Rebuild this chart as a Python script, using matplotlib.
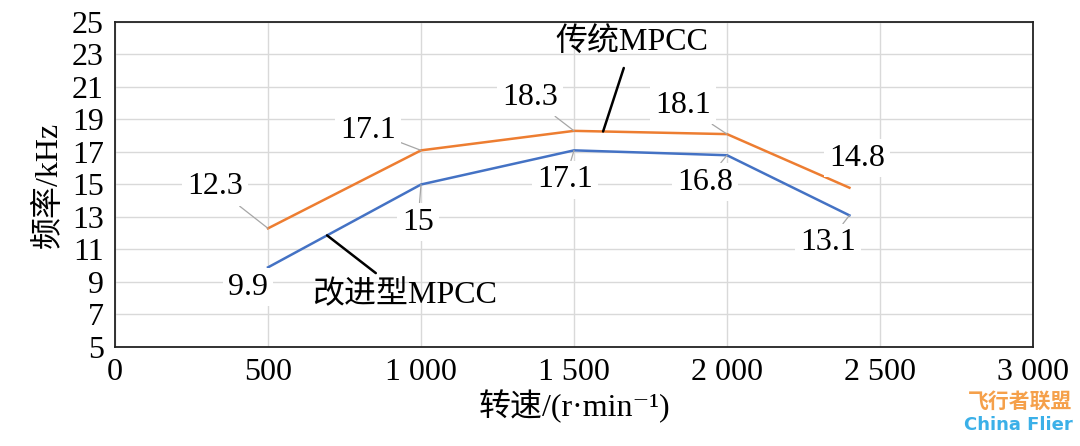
import numpy as np
import matplotlib
matplotlib.use("Agg")
import matplotlib.pyplot as plt

plt.rcParams['font.family'] = ['Liberation Serif', 'Noto Sans CJK SC', 'DejaVu Serif']

# data
speed = [500, 1000, 1500, 2000, 2400]
freq_trad = [12.3, 17.1, 18.3, 18.1, 14.8]
freq_impr = [9.9, 15, 17.1, 16.8, 13.1]
xtick_vals = [0, 500, 1000, 1500, 2000, 2500, 3000]
xtick_labels = ['0', '500', '1 000', '1 500', '2 000', '2 500', '3 000']
ytick_vals = list(range(5, 26, 2))

# label text positions (data coords)
trad_label_pos = [(327, 14.85), (827, 18.35), (1356, 20.38), (1856, 19.89), (2425, 16.63)]
impr_label_pos = [(435, 8.69), (990, 12.69), (1471, 15.28), (1928, 15.15), (2330, 11.4)]
trad_leader = [True, True, True, True, False]
impr_leader = [False, True, True, True, True]

c_orange = '#ED7D31'
c_blue = '#4472C4'
fs = 23

fig = plt.figure(figsize=(10.8, 4.46), dpi=100)
ax = fig.add_axes([0.1065, 0.222, 0.85, 0.7287])

ax.plot(speed, freq_trad, color=c_orange, lw=1.8, zorder=3)
ax.plot(speed, freq_impr, color=c_blue, lw=1.8, zorder=3)

ax.set_xlim(0, 3000)
ax.set_ylim(5, 25)
ax.set_xticks(xtick_vals)
ax.set_xticklabels(xtick_labels)
ax.set_yticks(ytick_vals)
ax.tick_params(length=0, labelsize=fs, pad=8)
ax.grid(True, color='#D9D9D9', lw=1)
ax.set_axisbelow(True)
for s in ax.spines.values():
    s.set_color('#222222')
    s.set_linewidth(1.3)

ax.set_xlabel('转速/(r·min⁻¹)', fontsize=fs, labelpad=2)
ax.set_ylabel('频率/kHz', fontsize=fs, labelpad=6)

def put_labels(xs, ys, pos, leader):
    for x, y, p, ld in zip(xs, ys, pos, leader):
        txt = f'{y:g}'
        ap = dict(arrowstyle='-', color='#A6A6A6', lw=0.9, shrinkA=0, shrinkB=0) if ld else None
        ax.annotate(txt, xy=(x, y), xytext=p, ha='center', va='center', fontsize=fs,
                    bbox=dict(boxstyle='square,pad=0.15', fc='white', ec='none'),
                    arrowprops=ap, zorder=4)

put_labels(speed, freq_trad, trad_label_pos, trad_leader)
put_labels(speed, freq_impr, impr_label_pos, impr_leader)

# series name callouts
x_t = 1595
ax.annotate('传统MPCC', xy=(x_t, np.interp(x_t, speed, freq_trad)), xytext=(1690, 23.75),
            ha='center', va='center', fontsize=fs,
            arrowprops=dict(arrowstyle='-', color='black', lw=1.8, shrinkA=6, shrinkB=0), zorder=5)
x_i = 693
ax.annotate('改进型MPCC', xy=(x_i, np.interp(x_i, speed, freq_impr)), xytext=(948, 8.15),
            ha='center', va='center', fontsize=fs,
            arrowprops=dict(arrowstyle='-', color='black', lw=1.8, shrinkA=6, shrinkB=0), zorder=5)

# watermark
fig.text(0.993, 0.1, '飞行者联盟', color='#F5A04A', fontsize=15, ha='right', va='center',
         family=['Noto Sans CJK SC'], weight='bold')
fig.text(0.993, 0.047, 'China Flier', color='#3BB0E8', fontsize=13, ha='right', va='center',
         family=['DejaVu Sans'], weight='bold')

fig.savefig('out.png', dpi=100)
